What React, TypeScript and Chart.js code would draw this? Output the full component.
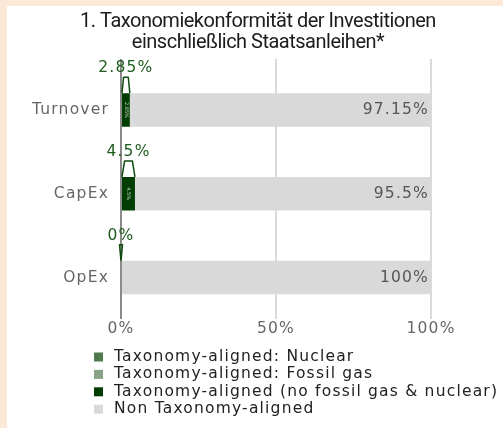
import React, { useEffect, useRef } from 'react';
import { Chart, registerables } from 'chart.js';

Chart.register(...registerables);

const titleLines = ['1. Taxonomiekonformität der Investitionen', 'einschließlich Staatsanleihen*'];
const categories = ['Turnover', 'CapEx', 'OpEx'];
const nuclear = [0, 0, 0];
const fossilGas = [0, 0, 0];
const alignedNoGasNuclear = [2.85, 4.5, 0];
const nonAligned = [97.15, 95.5, 100];
const xTickValues = [0, 50, 100];
const seriesLabels = [
  'Taxonomy-aligned: Nuclear',
  'Taxonomy-aligned: Fossil gas',
  'Taxonomy-aligned (no fossil gas & nuclear)',
  'Non Taxonomy-aligned',
];
const seriesColors = ['#4f7b4f', '#87a287', '#003d00', '#d9d9d9'];

const FONT = "'DejaVu Sans', Verdana, sans-serif";
const FS = 15.5;
const LS = '1.2px';

function setSpacing(chart: any) {
  const ctx = chart.ctx as any;
  if (ctx) ctx.letterSpacing = LS;
}

const fmt = (v: number) => `${v}%`;

const customPlugin = {
  id: 'custom',
  beforeUpdate: (chart: any) => setSpacing(chart),
  beforeLayout: (chart: any) => setSpacing(chart),
  beforeDraw: (chart: any) => {
    setSpacing(chart);
    const ctx = chart.ctx as any;
    ctx.save();
    ctx.letterSpacing = '-0.5px';
    ctx.fillStyle = '#1c1c1c';
    ctx.font = "20px Roboto, 'Noto Sans', sans-serif";
    ctx.textAlign = 'center';
    ctx.textBaseline = 'alphabetic';
    ctx.fillText(titleLines[0], 251, 21);
    ctx.fillText(titleLines[1], 251, 42);
    ctx.restore();
  },
  beforeDatasetsDraw: (chart: any) => {
    const ctx = chart.ctx;
    const area = chart.chartArea;
    const xs = chart.scales.x;
    ctx.save();
    ctx.lineWidth = 2;
    xTickValues.forEach((v) => {
      const x = xs.getPixelForValue(v);
      ctx.strokeStyle = v === 0 ? '#8a8a8a' : '#dadada';
      ctx.beginPath();
      ctx.moveTo(x, area.top - 9);
      ctx.lineTo(x, area.top);
      ctx.stroke();
    });
    ctx.restore();
  },
  afterDatasetsDraw: (chart: any) => {
    const ctx = chart.ctx as any;
    ctx.save();
    ctx.letterSpacing = LS;
    const nonMeta = chart.getDatasetMeta(3);
    nonMeta.data.forEach((el: any, i: number) => {
      ctx.font = `${FS}px ${FONT}`;
      ctx.fillStyle = '#555555';
      ctx.textAlign = 'right';
      ctx.textBaseline = 'middle';
      ctx.fillText(fmt(nonAligned[i]), el.x - 2, el.y);
    });
    const alMeta = chart.getDatasetMeta(2);
    alMeta.data.forEach((el: any, i: number) => {
      const left = Math.min(el.x, el.base);
      const right = Math.max(el.x, el.base);
      const w = right - left;
      const cx = (left + right) / 2;
      const top = el.y - el.height / 2;
      const half = Math.max(1.5, w * 0.3);
      ctx.strokeStyle = '#0f4a0f';
      ctx.lineWidth = 1.5;
      ctx.lineJoin = 'round';
      ctx.beginPath();
      ctx.moveTo(left, top);
      ctx.lineTo(cx - half, top - 16);
      ctx.lineTo(cx + half, top - 16);
      ctx.lineTo(right, top);
      ctx.stroke();
      ctx.font = `${FS}px ${FONT}`;
      ctx.fillStyle = '#1e5c1e';
      ctx.textAlign = 'center';
      ctx.textBaseline = 'middle';
      ctx.fillText(fmt(alignedNoGasNuclear[i]), cx, top - 25);
      if (alignedNoGasNuclear[i] > 0) {
        ctx.save();
        ctx.letterSpacing = '0px';
        ctx.translate(cx, el.y);
        ctx.rotate(Math.PI / 2);
        ctx.font = `5px ${FONT}`;
        ctx.fillStyle = '#c8d2c8';
        ctx.textAlign = 'center';
        ctx.textBaseline = 'middle';
        ctx.fillText(fmt(alignedNoGasNuclear[i]), 0, 0);
        ctx.restore();
      }
    });
    ctx.restore();
  },
  afterDraw: (chart: any) => {
    const ctx = chart.ctx as any;
    ctx.save();
    ctx.letterSpacing = LS;
    ctx.font = `${FS}px ${FONT}`;
    ctx.textAlign = 'left';
    ctx.textBaseline = 'middle';
    seriesLabels.forEach((label, i) => {
      const y = 351 + i * 17.4;
      ctx.fillStyle = seriesColors[i];
      ctx.fillRect(87, y - 4.5, 9, 9);
      ctx.fillStyle = '#222222';
      ctx.fillText(label, 107, y);
    });
    ctx.restore();
  },
};

export default function App() {
  const ref = useRef<HTMLCanvasElement | null>(null);
  useEffect(() => {
    if (!ref.current) return;
    const datasets = [nuclear, fossilGas, alignedNoGasNuclear, nonAligned].map((d, i) => ({
      label: seriesLabels[i],
      data: d,
      backgroundColor: seriesColors[i],
      borderWidth: 0,
      categoryPercentage: 0.8,
      barPercentage: 0.5,
    }));
    const chart = new Chart(ref.current, {
      type: 'bar',
      data: { labels: categories, datasets },
      plugins: [customPlugin],
      options: {
        indexAxis: 'y',
        animation: false,
        responsive: false,
        maintainAspectRatio: false,
        layout: { padding: { top: 62, right: 72, bottom: 90, left: 0 } },
        plugins: {
          legend: { display: false },
          title: { display: false },
          tooltip: { enabled: false },
        },
        scales: {
          x: {
            stacked: true,
            min: 0,
            max: 100,
            afterBuildTicks: (scale: any) => {
              scale.ticks = xTickValues.map((v) => ({ value: v }));
            },
            ticks: {
              callback: (v: any) => fmt(v),
              color: '#666666',
              font: { family: FONT, size: FS },
              padding: 0,
              maxRotation: 0,
            },
            grid: {
              color: (c: any) => (c.tick && c.tick.value === 0 ? '#8a8a8a' : '#dadada'),
              lineWidth: 2,
              drawTicks: false,
            },
            border: { display: false },
          },
          y: {
            stacked: true,
            afterFit: (scale: any) => {
              scale.width = 114;
            },
            ticks: {
              color: '#666666',
              font: { family: FONT, size: FS },
              padding: 4,
            },
            grid: { display: false },
            border: { display: false },
          },
        },
      } as any,
    });
    return () => chart.destroy();
  }, []);
  return (
    <div style={{ position: 'absolute', left: 0, top: 0, width: 503, height: 428, background: '#fbe8d7' }}>
      <div style={{ position: 'absolute', left: 7, top: 6, width: 496, height: 422, background: '#ffffff' }}>
        <canvas ref={ref} width={496} height={422} style={{ display: 'block', width: 496, height: 422 }} />
      </div>
    </div>
  );
}
